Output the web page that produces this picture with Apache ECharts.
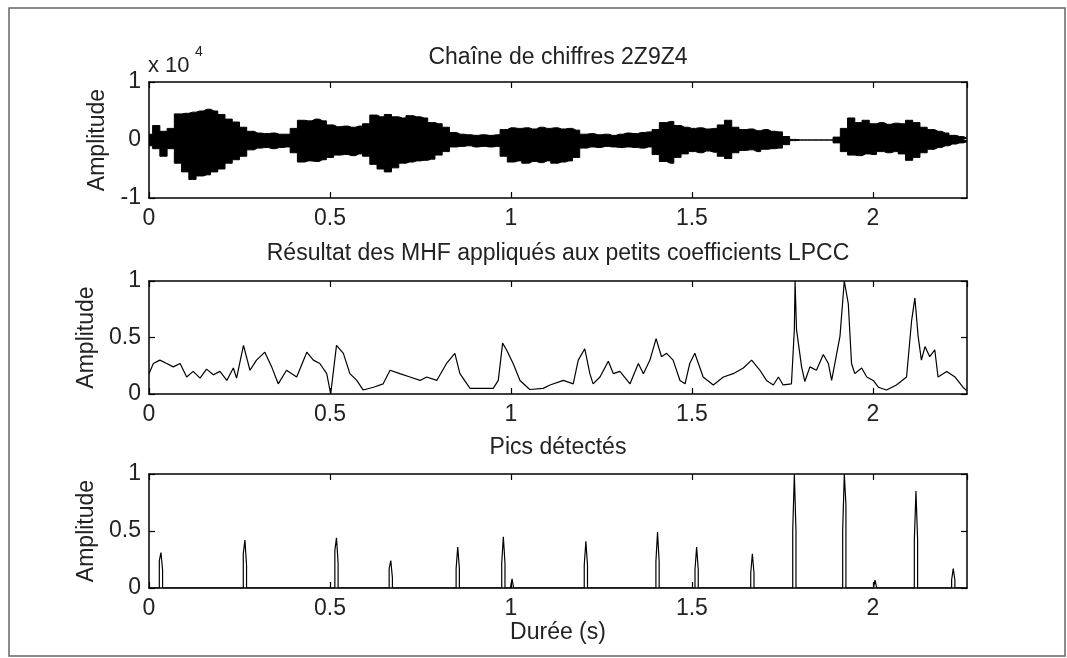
<!DOCTYPE html>
<html>
<head>
<meta charset="utf-8">
<script src="https://cdn.jsdelivr.net/npm/echarts@6/dist/echarts.min.js"></script>
<style>
  html, body { margin: 0; padding: 0; background: #fff; }
  #chart { width: 1067px; height: 658px; }
</style>
</head>
<body>
<div id="chart"></div>
<script>
// signal envelope, read every 0.02 s (raw amplitude)
var waveStep = 0.02;
var waveUpper = [
  1000, 2500, 1500, 2000, 4500, 4600, 4800, 5000, 5300, 5000,
  4400, 3600, 3100, 2200, 1500, 1200, 1100, 1200, 1000, 1000,
  2000, 3400, 3300, 3600, 3300, 2600, 2300, 2400, 2200, 2400,
  2800, 4300, 4000, 4400, 4000, 3800, 4200, 4000, 3800, 3000,
  2800, 2200, 1300, 1000, 900, 800, 900, 800, 900, 1800,
  2100, 2000, 2100, 1900, 2200, 2000, 2100, 1900, 2000, 1700,
  1000, 1100, 900, 1000, 800, 1000, 1200, 1100, 1300, 1400,
  1800, 3000, 3200, 2500, 2200, 2000, 2100, 1900, 2000, 2600,
  3400, 2200, 1800, 1900, 1600, 1800, 1500, 1400, 600, 100,
  0, 0, 0, 0, 0, 500, 2000, 3800, 3000, 3400,
  2800, 3000, 2700, 2900, 2800, 3400, 3000, 2200, 1800, 1500,
  1200, 800, 600, 300
];
var waveLower = [
  -1000, -1500, -2800, -1500, -4000, -5500, -6800, -6200, -6000, -5500,
  -5000, -4000, -3400, -2800, -1700, -1400, -1300, -1500, -1300, -1200,
  -2200, -3800, -3600, -3700, -3400, -3000, -2600, -2500, -2700, -2400,
  -2800, -4200, -5000, -5500, -4800, -4000, -3800, -3600, -3500, -3300,
  -2600, -2000, -1200, -1100, -1000, -1200, -1100, -1200, -1100, -2800,
  -3800, -3600, -4000, -3700, -3900, -3600, -4000, -3800, -3600, -3000,
  -1400, -1200, -1300, -1100, -1200, -1300, -1200, -1300, -1400, -1200,
  -2500, -3700, -4000, -3000, -2400, -2000, -2200, -1900, -2100, -2800,
  -3200, -2200, -1800, -1700, -2000, -1600, -1500, -1400, -800, -100,
  0, 0, 0, 0, 0, -500, -2000, -2600, -2700, -2400,
  -2500, -2000, -2200, -2000, -2400, -3500, -3000, -2200, -1600, -1300,
  -1000, -700, -500, -300
];

// MHF output on the small LPCC coefficients
var mhfTime = [
  0, 0.012, 0.030, 0.049, 0.067, 0.086, 0.104, 0.122, 0.141, 0.159,
  0.178, 0.196, 0.215, 0.233, 0.242, 0.261, 0.279, 0.297, 0.320, 0.339,
  0.357, 0.380, 0.408, 0.436, 0.454, 0.472, 0.491, 0.502, 0.518, 0.537,
  0.555, 0.574, 0.592, 0.620, 0.647, 0.666, 0.693, 0.721, 0.749, 0.767,
  0.795, 0.822, 0.845, 0.859, 0.887, 0.914, 0.951, 0.965, 0.977, 0.988,
  1.006, 1.025, 1.052, 1.089, 1.108, 1.145, 1.172, 1.186, 1.204, 1.218,
  1.227, 1.246, 1.269, 1.283, 1.301, 1.329, 1.352, 1.366, 1.384, 1.401,
  1.416, 1.430, 1.448, 1.467, 1.481, 1.494, 1.508, 1.531, 1.559, 1.587,
  1.614, 1.642, 1.665, 1.688, 1.706, 1.725, 1.739, 1.752, 1.775, 1.783,
  1.785, 1.789, 1.803, 1.812, 1.826, 1.844, 1.863, 1.877, 1.886, 1.909,
  1.921, 1.932, 1.941, 1.950, 1.969, 1.983, 2.001, 2.015, 2.038, 2.065,
  2.093, 2.107, 2.116, 2.125, 2.134, 2.144, 2.157, 2.171, 2.180, 2.204,
  2.227, 2.249, 2.259
];
var mhfValue = [
  0.18, 0.27, 0.30, 0.27, 0.24, 0.27, 0.15, 0.20, 0.14, 0.22,
  0.17, 0.20, 0.12, 0.23, 0.14, 0.43, 0.21, 0.30, 0.37, 0.24,
  0.09, 0.21, 0.15, 0.37, 0.30, 0.27, 0.18, 0.00, 0.43, 0.36,
  0.18, 0.12, 0.035, 0.06, 0.09, 0.21, 0.18, 0.15, 0.12, 0.15,
  0.12, 0.27, 0.36, 0.18, 0.05, 0.05, 0.05, 0.12, 0.45, 0.39,
  0.27, 0.12, 0.04, 0.05, 0.08, 0.12, 0.09, 0.30, 0.40, 0.18,
  0.09, 0.15, 0.29, 0.18, 0.20, 0.09, 0.27, 0.18, 0.30, 0.49,
  0.33, 0.36, 0.30, 0.12, 0.09, 0.27, 0.36, 0.15, 0.08, 0.15,
  0.18, 0.23, 0.30, 0.21, 0.12, 0.08, 0.15, 0.08, 0.09, 0.57,
  1.00, 0.57, 0.24, 0.11, 0.24, 0.21, 0.35, 0.27, 0.12, 0.51,
  1.00, 0.80, 0.27, 0.18, 0.23, 0.15, 0.12, 0.06, 0.035, 0.08,
  0.15, 0.65, 0.85, 0.51, 0.30, 0.42, 0.33, 0.39, 0.15, 0.20,
  0.15, 0.06, 0.03
];

// detected peaks: centre, height, and the frame just before / after
var peakTime  = [0.033, 0.265, 0.518, 0.668, 0.853, 0.979, 1.003, 1.207, 1.405, 1.513, 1.667, 1.783, 1.921, 2.006, 2.119, 2.222];
var peakValue = [0.31, 0.42, 0.44, 0.24, 0.36, 0.45, 0.08, 0.41, 0.49, 0.36, 0.30, 1.00, 1.00, 0.07, 0.85, 0.17];
var peakLeft  = [0.24, 0.30, 0.33, 0.17, 0.17, 0.22, 0, 0.20, 0.23, 0.16, 0.13, 0.50, 0.50, 0, 0.42, 0.07];
var peakRight = [0.16, 0.20, 0.22, 0.09, 0.17, 0.22, 0, 0.20, 0.23, 0.16, 0.13, 0.50, 0.73, 0, 0.42, 0.07];
var frameStep = 0.0045;

var tMax = 2.26;
var xTicks = ['0', '0.5', '1', '1.5', '2'];
var titles = ['Chaîne de chiffres 2Z9Z4', 'Résultat des MHF appliqués aux petits coefficients LPCC', 'Pics détectés'];

var up = waveUpper.map(function (v, i) { return [i * waveStep, v]; });
var lo = waveLower.map(function (v, i) { return [i * waveStep, v]; });
var mhf = mhfTime.map(function (t, i) { return [t, mhfValue[i]]; });
var pics = [[0, 0]];
peakTime.forEach(function (t, i) {
  pics.push([t - frameStep, 0], [t - frameStep, peakLeft[i]], [t, peakValue[i]],
            [t + frameStep, peakRight[i]], [t + frameStep, 0]);
});
pics.push([tMax, 0]);

var font = 'Liberation Sans, Arial, sans-serif';
var txt = '#222';
var grids = [
  { left: 149, top: 82, width: 818, height: 116 },
  { left: 149, top: 281, width: 818, height: 113 },
  { left: 149, top: 474, width: 818, height: 114 }
];

function xAx(g, top) {
  return {
    type: 'value', gridIndex: g, min: 0, max: tMax, interval: 0.5,
    position: top ? 'top' : 'bottom',
    axisLine: { onZero: false, lineStyle: { color: '#000', width: 1.5 } },
    axisTick: { inside: true, length: 6, lineStyle: { color: '#000', width: 1.2 } },
    splitLine: { show: false },
    axisLabel: {
      show: !top, showMaxLabel: false, margin: 9, color: txt, fontSize: 23, fontFamily: font,
      formatter: function (v) { var k = Math.round(v * 2); return Math.abs(v * 2 - k) < 1e-6 ? xTicks[k] : ''; }
    },
    name: (g === 2 && !top) ? 'Durée (s)' : '',
    nameLocation: 'middle', nameGap: 31,
    nameTextStyle: { color: txt, fontSize: 23, fontFamily: font }
  };
}
function yAx(g, right, min, max, step, fmt) {
  return {
    type: 'value', gridIndex: g, min: min, max: max, interval: step,
    position: right ? 'right' : 'left',
    axisLine: { onZero: false, lineStyle: { color: '#000', width: 1.5 } },
    axisTick: { inside: true, length: 6, lineStyle: { color: '#000', width: 1.2 } },
    splitLine: { show: false },
    axisLabel: { show: !right, margin: 8, color: txt, fontSize: 23, fontFamily: font, formatter: fmt },
    name: right ? '' : 'Amplitude',
    nameLocation: 'middle', nameGap: 40,
    nameTextStyle: { color: txt, fontSize: 23, fontFamily: font }
  };
}
var fmtWave = function (v) { return String(Math.round(v / 10000)); };
var fmtUnit = function (v) { return String(v); };

var chart = echarts.init(document.getElementById('chart'), null, { renderer: 'canvas' });
chart.setOption({
  animation: false,
  backgroundColor: '#fff',
  title: titles.map(function (t, i) {
    return {
      text: t, left: 558, textAlign: 'center', top: [46, 242, 436][i], padding: 0,
      textStyle: { color: txt, fontSize: 23, fontWeight: 'normal', fontFamily: font, lineHeight: 24 }
    };
  }),
  grid: grids,
  xAxis: [xAx(0, false), xAx(1, false), xAx(2, false), xAx(0, true), xAx(1, true), xAx(2, true)],
  yAxis: [
    yAx(0, false, -10000, 10000, 10000, fmtWave),
    yAx(1, false, 0, 1, 0.5, fmtUnit),
    yAx(2, false, 0, 1, 0.5, fmtUnit),
    yAx(0, true, -10000, 10000, 10000, fmtWave),
    yAx(1, true, 0, 1, 0.5, fmtUnit),
    yAx(2, true, 0, 1, 0.5, fmtUnit)
  ],
  graphic: [
    { type: 'rect', shape: { x: 9, y: 8, width: 1056, height: 648 }, style: { fill: 'none', stroke: '#666', lineWidth: 1.5 }, silent: true },
    { type: 'text', x: 148, y: 66, style: { text: 'x 10', fill: txt, font: '22px ' + font, textVerticalAlign: 'middle' } },
    { type: 'text', x: 195, y: 52, style: { text: '4', fill: txt, font: '14px ' + font, textVerticalAlign: 'middle' } }
  ],
  series: [
    { type: 'line', xAxisIndex: 0, yAxisIndex: 0, data: up, step: 'middle', symbol: 'none',
      lineStyle: { color: '#000', width: 1 }, areaStyle: { color: '#000', opacity: 1 } },
    { type: 'line', xAxisIndex: 0, yAxisIndex: 0, data: lo, step: 'middle', symbol: 'none',
      lineStyle: { color: '#000', width: 1 }, areaStyle: { color: '#000', opacity: 1 } },
    { type: 'line', xAxisIndex: 1, yAxisIndex: 1, data: mhf, symbol: 'none',
      lineStyle: { color: '#000', width: 1.2 } },
    { type: 'line', xAxisIndex: 2, yAxisIndex: 2, data: pics, symbol: 'none',
      lineStyle: { color: '#000', width: 1.2 } }
  ]
});
</script>
</body>
</html>
